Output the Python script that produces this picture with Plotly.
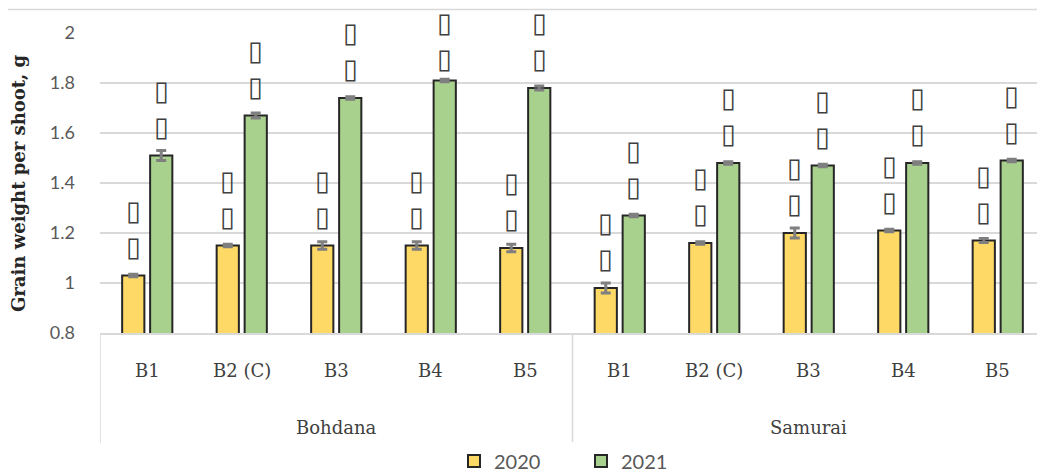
import plotly.graph_objects as go

# ---------------- data ----------------
varieties = ["Bohdana", "Samurai"]
treatments = ["B1", "B2 (C)", "B3", "B4", "B5"]
years = ["2020", "2021"]

y2020 = [1.03, 1.15, 1.15, 1.15, 1.14, 0.98, 1.16, 1.20, 1.21, 1.17]
y2021 = [1.51, 1.67, 1.74, 1.81, 1.78, 1.27, 1.48, 1.47, 1.48, 1.49]
err2020 = [0.005, 0.005, 0.015, 0.015, 0.015, 0.02, 0.005, 0.02, 0.005, 0.008]
err2021 = [0.02, 0.01, 0.005, 0.005, 0.008, 0.005, 0.005, 0.005, 0.005, 0.005]

# significance letters (rendered as missing-glyph boxes in the source)
labels2020 = [["▯", "▯"]] * 10
labels2021 = [["▯", "▯"]] * 10

ytick_vals = [0.8, 1.0, 1.2, 1.4, 1.6, 1.8, 2.0]
ytick_text = ["0.8", "1", "1.2", "1.4", "1.6", "1.8", "2"]

y_title = "Grain weight per shoot, g"

# ---------------- styling ----------------
colors = {"2020": "#FFD966", "2021": "#A9D18E"}
bar_w = 0.235
half_gap = 0.148
label_cap = 1.78   # labels are kept inside the chart area (as in the source)
serif = "DejaVu Serif"
sans = "Lato"

n_per_group = len(treatments)
xs = list(range(len(varieties) * n_per_group))
cat_labels = [t for v in varieties for t in treatments]

fig = go.Figure()
series = [("2020", y2020, err2020, -half_gap), ("2021", y2021, err2021, half_gap)]
for name, vals, errs, ctr in series:
    fig.add_trace(go.Bar(
        x=xs, y=vals, name=name,
        width=bar_w, offset=ctr - bar_w / 2,
        marker=dict(color=colors[name], line=dict(color="#262626", width=2)),
        error_y=dict(type="data", array=errs, color="#7f7f7f", thickness=3, width=5),
        cliponaxis=False,
    ))

annotations = []
# letters above bars
for (name, vals, errs, ctr), labs in zip(series, [labels2020, labels2021]):
    for i, v in enumerate(vals):
        lower, upper = labs[i][1], labs[i][0]
        for txt, shift in [(lower, 12), (upper, 48)]:
            annotations.append(dict(
                x=xs[i] + ctr, y=min(v, label_cap), xref="x", yref="y", text=txt,
                showarrow=False, yanchor="bottom", yshift=shift,
                font=dict(family="DejaVu Sans", size=27, color="#404040"),
            ))

# category labels
for i, lab in enumerate(cat_labels):
    annotations.append(dict(
        x=xs[i], y=0, xref="x", yref="paper", text=lab, showarrow=False,
        yanchor="middle", yshift=-37,
        font=dict(family=serif, size=18, color="#404040"),
    ))
for g, v in enumerate(varieties):
    annotations.append(dict(
        x=g * n_per_group + (n_per_group - 1) / 2, y=0, xref="x", yref="paper",
        text=v, showarrow=False, yanchor="middle", yshift=-94,
        font=dict(family=serif, size=18, color="#404040"),
    ))

# y-axis title
annotations.append(dict(
    x=0, y=0.5, xref="paper", yref="paper", text="<b>" + y_title + "</b>",
    showarrow=False, textangle=-90, xanchor="center", yanchor="middle", xshift=-82,
    font=dict(family=serif, size=18, color="#262626"),
))

shapes = []
# group dividers below the axis
for b in [-0.5, n_per_group - 0.5, 2 * n_per_group - 0.5]:
    shapes.append(dict(type="line", xref="x", yref="paper", x0=b, x1=b, y0=0, y1=-0.367,
                       line=dict(color="#d9d9d9", width=1.5)))
# chart-area top border
shapes.append(dict(type="line", xref="paper", yref="paper", x0=-0.1, x1=1.0, y0=1.078, y1=1.078,
                   line=dict(color="#d9d9d9", width=1.5)))

# the page body adds an 8px offset; the figure size compensates for it
fig.update_layout(
    width=1037, height=464,
    margin=dict(l=92, r=0, t=25, b=139, autoexpand=False),
    paper_bgcolor="white", plot_bgcolor="white",
    barmode="overlay",
    showlegend=True,
    legend=dict(orientation="h", x=0.509, xanchor="center", y=-0.427, yanchor="middle",
                font=dict(family=sans, size=20, color="#595959"),
                entrywidth=82, entrywidthmode="pixels", itemwidth=30),
    annotations=annotations,
    shapes=shapes,
)
fig.update_xaxes(range=[-0.5, len(xs) - 0.5], showticklabels=False, showgrid=False,
                 zeroline=False, showline=True, linecolor="#d9d9d9", linewidth=1.5, ticks="")
fig.update_yaxes(range=[0.8, 2.0], tickvals=ytick_vals, ticktext=ytick_text,
                 showgrid=True, gridcolor="#d9d9d9", gridwidth=1.5, zeroline=False,
                 showline=False, ticks="", ticklabelstandoff=24,
                 tickfont=dict(family=sans, size=18, color="#595959"))

fig.write_html("out.html")
